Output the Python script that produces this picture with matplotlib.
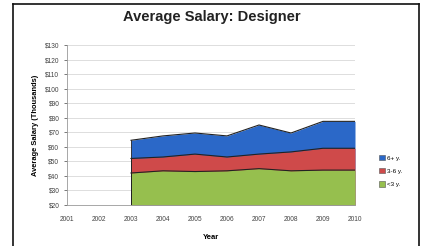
import matplotlib.pyplot as plt
from matplotlib.lines import Line2D
from matplotlib.patches import Patch

plt.rcParams['font.family'] = ['Liberation Sans', 'DejaVu Sans']

# data
years = [2003, 2004, 2005, 2006, 2007, 2008, 2009, 2010]
tick_years = list(range(2001, 2011))
senior = [64.5, 67.5, 69.5, 67.5, 75, 69.5, 77.5, 77.5]   # 6+ y.
mid = [52, 53, 55, 53, 55, 56.5, 59, 59]                  # 3-6 y.
junior = [42, 43.5, 43, 43.5, 45, 43.5, 44, 44]           # <3 y.
labels = ['6+ y.', '3-6 y.', '<3 y.']
colors = ['#2B68C8', '#CF4A4A', '#96BF4E']
y_ticks = list(range(20, 131, 10))

fig = plt.figure(figsize=(4.23, 2.46), dpi=100)
ax = fig.add_axes([67 / 423, 41 / 246, 288 / 423, 160 / 246])

base = 20
for vals, c in zip([senior, mid, junior], colors):
    ax.fill_between(years, base, vals, color=c, linewidth=0, zorder=2)
    ax.plot(years, vals, color='#222222', linewidth=0.8, zorder=3)
    ax.plot([years[0], years[0]], [base, vals[0]], color='#222222', linewidth=0.6, zorder=3)
    ax.plot([years[-1], years[-1]], [base, vals[-1]], color='#222222', linewidth=0.6, zorder=3)

ax.set_xlim(2001, 2010)
ax.set_ylim(20, 130)
ax.set_yticks(y_ticks)
ax.set_yticklabels(['$%d' % v for v in y_ticks])
ax.set_xticks(tick_years)
ax.set_xticklabels([str(y) for y in tick_years])
ax.tick_params(labelsize=4.8, colors='#444444', length=2, width=0.5)
ax.tick_params(axis='x', length=0, pad=8)
ax.grid(axis='y', color='#D8D8D8', linewidth=0.6, zorder=0)
for s in ['top', 'right']:
    ax.spines[s].set_visible(False)
ax.spines['left'].set_color('#999999')
ax.spines['bottom'].set_color('#999999')
ax.spines['left'].set_linewidth(0.6)
ax.spines['bottom'].set_linewidth(0.6)

ax.set_ylabel('Average Salary (Thousands)', fontsize=5.4, fontweight='bold', labelpad=4)
ax.set_xlabel('Year', fontsize=5.5, fontweight='bold', labelpad=8)
fig.text(0.5, 1 - 17 / 246, 'Average Salary: Designer', ha='center', va='center',
         fontsize=10.5, fontweight='bold', color='#222222')

handles = [Patch(facecolor=c, edgecolor='#555555', linewidth=0.4) for c in colors]
fig.legend(handles, labels, loc='center left', bbox_to_anchor=(376 / 423, 1 - 171 / 246),
           frameon=False, fontsize=4.5, handlelength=0.9, handleheight=0.9,
           handletextpad=0.3, labelspacing=1.2, borderpad=0)

# outer frame
fig.add_artist(Line2D([13 / 423, 13 / 423], [0, 1 - 4 / 246], color='#111111', linewidth=1.2))
fig.add_artist(Line2D([13 / 423, 419 / 423], [1 - 4 / 246, 1 - 4 / 246], color='#111111', linewidth=1.2))
fig.add_artist(Line2D([419 / 423, 419 / 423], [0, 1 - 4 / 246], color='#111111', linewidth=1.2))

fig.savefig('out.png', dpi=100)
